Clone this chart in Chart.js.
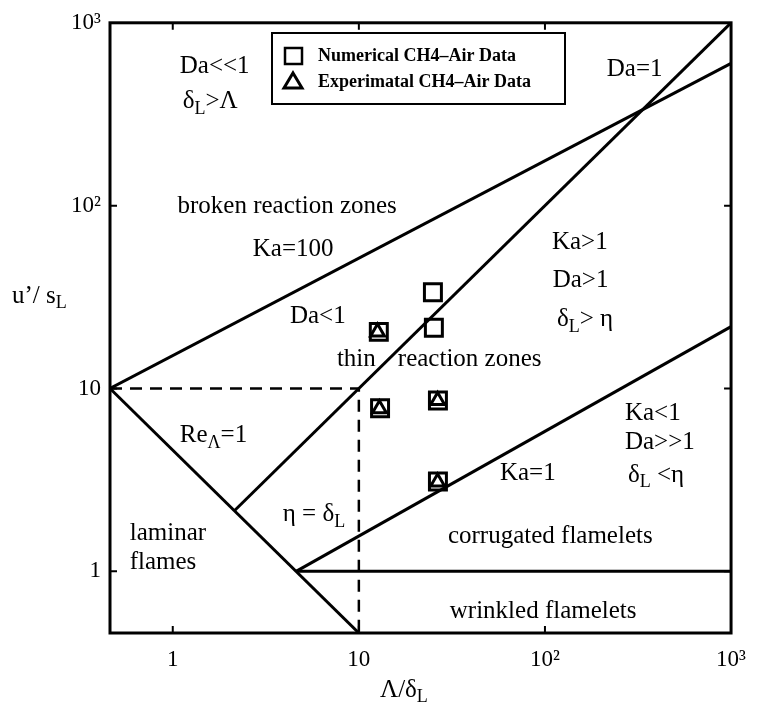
<!DOCTYPE html>
<html lang="en">
<head>
<meta charset="UTF-8">
<title>Turbulent combustion regime diagram</title>
<script src="https://cdn.jsdelivr.net/npm/chart.js@4.4.1/dist/chart.umd.min.js"></script>
<style>
  html, body { margin: 0; padding: 0; background: #fff; }
</style>
</head>
<body>
<canvas id="regime" width="759" height="727"></canvas>
<script>
// axis ticks
const tickValues = [1, 10, 100, 1000];
const tickText = ['1', '10', '10²', '10³'];
const axisMin = 0.46;
const axisMax = 1000;

// data points (Λ/δL, u'/sL)
const numericalX = [25.0, 25.3, 12.8, 13.0, 26.6, 26.6];
const numericalY = [33.6, 21.5, 20.4, 7.8, 8.6, 3.1];
const experimentalX = [12.6, 12.9, 26.5, 26.5];
const experimentalY = [20.4, 7.75, 8.6, 3.08];

// regime boundaries
const reLineX = [0.46, 10];   const reLineY = [10, 0.46];
const ka100X = [0.46, 1000];  const ka100Y = [10, 600];
const da1X = [2.15, 1000];    const da1Y = [2.15, 1000];
const ka1X = [4.6, 1000];     const ka1Y = [1, 21.8];
const unityX = [4.6, 1000];   const unityY = [1, 1];
const etaX = [0.46, 10, 10];  const etaY = [10, 10, 0.46];

// region labels: text pieces ('s' = subscript), anchored at left / middle
const notes = [
  {x: 1.09, y: 580,  t: [['Da<<1']]},
  {x: 1.13, y: 371,  t: [['δ'], ['L', 's'], ['>Λ']]},
  {x: 1.06, y: 98.8, t: [['broken reaction zones']]},
  {x: 2.69, y: 57.3, t: [['Ka=100']]},
  {x: 215,  y: 559,  t: [['Da=1']]},
  {x: 109,  y: 63.2, t: [['Ka>1']]},
  {x: 110,  y: 39.0, t: [['Da>1']]},
  {x: 116,  y: 23.8, t: [['δ'], ['L', 's'], ['> η']]},
  {x: 269,  y: 7.34, t: [['Ka<1']]},
  {x: 269,  y: 5.06, t: [['Da>>1']]},
  {x: 279,  y: 3.36, t: [['δ'], ['L', 's'], [' <η']]},
  {x: 4.26, y: 24.7, t: [['Da<1']]},
  {x: 7.62, y: 14.5, t: [['thin']]},
  {x: 16.2, y: 14.5, t: [['reaction zones']]},
  {x: 1.09, y: 5.52, t: [['Re'], ['Λ', 's'], ['=1']]},
  {x: 3.90, y: 2.05, t: [['η = δ'], ['L', 's']]},
  {x: 0.587, y: 1.62, t: [['laminar']]},
  {x: 0.587, y: 1.12, t: [['flames']]},
  {x: 30.1, y: 1.56, t: [['corrugated flamelets']]},
  {x: 30.8, y: 0.602, t: [['wrinkled flamelets']]},
  {x: 57.3, y: 3.45, t: [['Ka=1']]}
];

const serif = '"Liberation Serif", "DejaVu Serif", serif';

function pts(xs, ys) {
  return xs.map((x, i) => ({x: x, y: ys[i]}));
}

function boundary(xs, ys, dashed) {
  return {
    data: pts(xs, ys),
    showLine: true,
    borderColor: '#000',
    borderWidth: dashed ? 2.5 : 3,
    borderDash: dashed ? [12, 8] : [],
    pointRadius: 0,
    tension: 0
  };
}

// draw text with subscripts, left aligned, vertically centred on y
function richText(ctx, parts, x, y, size) {
  ctx.textBaseline = 'middle';
  ctx.textAlign = 'left';
  let cx = x;
  parts.forEach(p => {
    if (p[1] === 's') {
      ctx.font = Math.round(size * 0.72) + 'px ' + serif;
      ctx.fillText(p[0], cx, y + size * 0.3);
    } else {
      ctx.font = size + 'px ' + serif;
      ctx.fillText(p[0], cx, y);
    }
    cx += ctx.measureText(p[0]).width;
  });
}

const decorations = {
  id: 'decorations',
  afterDatasetsDraw(chart) {
    const ctx = chart.ctx;
    const a = chart.chartArea;
    const xs = chart.scales.x, ys = chart.scales.y;
    ctx.save();
    ctx.fillStyle = '#000';
    ctx.strokeStyle = '#000';

    // frame
    ctx.lineWidth = 3;
    ctx.strokeRect(a.left, a.top, a.right - a.left, a.bottom - a.top);

    // inward tick marks on all four sides
    ctx.lineWidth = 2;
    tickValues.forEach(v => {
      if (v <= axisMin || v >= axisMax) return;
      const px = xs.getPixelForValue(v);
      const py = ys.getPixelForValue(v);
      ctx.beginPath();
      ctx.moveTo(px, a.bottom); ctx.lineTo(px, a.bottom - 7);
      ctx.moveTo(px, a.top); ctx.lineTo(px, a.top + 7);
      ctx.moveTo(a.left, py); ctx.lineTo(a.left + 7, py);
      ctx.moveTo(a.right, py); ctx.lineTo(a.right - 7, py);
      ctx.stroke();
    });

    // region labels
    notes.forEach(n => {
      richText(ctx, n.t, xs.getPixelForValue(n.x), ys.getPixelForValue(n.y), 25);
    });

    // axis titles
    richText(ctx, [['u’/ s'], ['L', 's']], 12, 296, 25);
    richText(ctx, [['Λ/δ'], ['L', 's']], 380, 690, 25);

    // legend
    ctx.lineWidth = 2;
    ctx.strokeRect(272, 33, 293, 71);
    ctx.lineWidth = 2.5;
    ctx.strokeRect(285, 48, 17, 16);
    ctx.lineWidth = 3;
    ctx.beginPath();
    ctx.moveTo(293, 73); ctx.lineTo(302, 88); ctx.lineTo(284, 88); ctx.closePath();
    ctx.stroke();
    ctx.font = 'bold 18px ' + serif;
    ctx.textBaseline = 'middle';
    ctx.textAlign = 'left';
    ctx.fillText('Numerical CH4–Air Data', 318, 56);
    ctx.fillText('Experimatal CH4–Air Data', 318, 82);
    ctx.restore();
  }
};

function logAxis(isX) {
  return {
    type: 'logarithmic',
    min: axisMin,
    max: axisMax,
    border: {display: false},
    grid: {display: false, drawTicks: false},
    ticks: {
      color: '#000',
      font: {family: serif, size: 23},
      padding: isX ? 13 : 9,
      autoSkip: false,
      maxRotation: 0,
      callback: v => tickText[tickValues.indexOf(v)]
    },
    afterBuildTicks: s => { s.ticks = tickValues.map(v => ({value: v})); },
    afterFit: s => {
      if (isX) s.height = 94; else s.width = 110;
    }
  };
}

new Chart(document.getElementById('regime'), {
  type: 'scatter',
  data: {
    datasets: [
      boundary(reLineX, reLineY, false),
      boundary(ka100X, ka100Y, false),
      boundary(da1X, da1Y, false),
      boundary(ka1X, ka1Y, false),
      boundary(unityX, unityY, false),
      boundary(etaX, etaY, true),
      {
        label: 'Numerical CH4–Air Data',
        data: pts(numericalX, numericalY),
        pointStyle: 'rect',
        pointRadius: 12,
        pointBorderWidth: 3,
        pointBorderColor: '#000',
        pointBackgroundColor: 'rgba(0,0,0,0)'
      },
      {
        label: 'Experimatal CH4–Air Data',
        data: pts(experimentalX, experimentalY),
        pointStyle: 'triangle',
        pointRadius: 8,
        pointBorderWidth: 3,
        pointBorderColor: '#000',
        pointBackgroundColor: 'rgba(0,0,0,0)'
      }
    ]
  },
  options: {
    responsive: false,
    animation: false,
    layout: {padding: {left: 0, top: 14, right: 26, bottom: 0}},
    plugins: {legend: {display: false}, tooltip: {enabled: false}},
    scales: {x: logAxis(true), y: logAxis(false)}
  },
  plugins: [decorations]
});
</script>
</body>
</html>
